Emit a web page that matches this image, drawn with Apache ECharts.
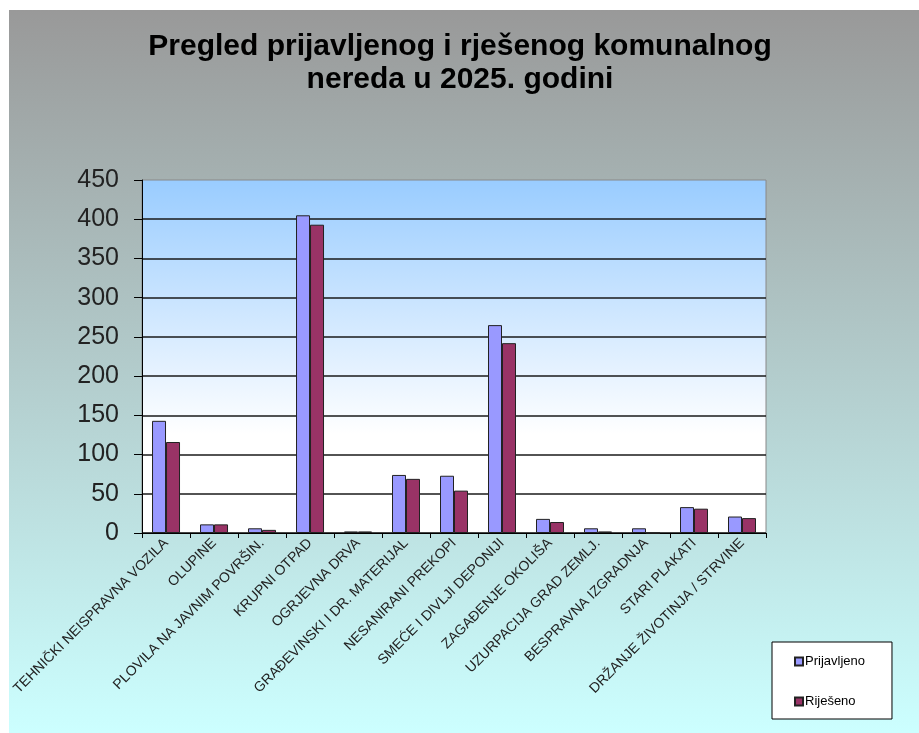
<!DOCTYPE html>
<html>
<head>
<meta charset="utf-8">
<script src="https://cdn.jsdelivr.net/npm/echarts@6/dist/echarts.min.js"></script>
<style>
html,body{margin:0;padding:0;background:#fff;width:919px;height:733px;overflow:hidden;}
#chart{position:absolute;left:9px;top:10px;width:910px;height:723px;}
</style>
</head>
<body>
<div id="chart"></div>
<script>
const categories = [
  'TEHNIČKI NEISPRAVNA VOZILA',
  'OLUPINE',
  'PLOVILA NA JAVNIM POVRŠIN.',
  'KRUPNI OTPAD',
  'OGRJEVNA DRVA',
  'GRAĐEVINSKI I DR. MATERIJAL',
  'NESANIRANI PREKOPI',
  'SMEĆE I DIVLJI DEPONIJI',
  'ZAGAĐENJE OKOLIŠA',
  'UZURPACIJA GRAD ZEMLJ.',
  'BESPRAVNA IZGRADNJA',
  'STARI PLAKATI',
  'DRŽANJE ŽIVOTINJA / STRVINE'
];
const prijavljeno = [143, 11, 6, 405, 2, 74, 73, 265, 18, 6, 6, 33, 21];
const rijeseno    = [116, 11, 4, 393, 2, 69, 54, 242, 14, 2, 0, 31, 19];
const yTicks = { min: 0, max: 450, interval: 50 };

const chart = echarts.init(document.getElementById('chart'));
const font = 'Arial, "Liberation Sans", sans-serif';
chart.setOption({
  animation: false,
  backgroundColor: new echarts.graphic.LinearGradient(0, 0, 0, 1, [
    { offset: 0, color: '#999999' },
    { offset: 1, color: '#ccffff' }
  ]),
  title: {
    text: 'Pregled prijavljenog i rješenog komunalnog\nnereda u 2025. godini',
    left: 446,
    top: 15,
    textAlign: 'center',
    textStyle: { fontFamily: font, fontWeight: 'bold', fontSize: 30, lineHeight: 33, color: '#000' }
  },
  legend: {
    orient: 'vertical',
    left: 763,
    top: 632,
    backgroundColor: '#ffffff',
    borderColor: '#000',
    borderWidth: 1,
    padding: [13, 27, 11, 22],
    itemGap: 27,
    itemWidth: 8,
    itemHeight: 8,
    icon: 'rect',
    textStyle: { fontFamily: font, fontSize: 13, color: '#000', padding: [0, 0, 0, -3] },
    data: ['Prijavljeno', 'Riješeno']
  },
  grid: {
    left: 132, top: 170, width: 625, height: 353,
    show: true,
    borderColor: '#888888',
    borderWidth: 1,
    backgroundColor: new echarts.graphic.LinearGradient(0, 0, 0, 1, [
      { offset: 0, color: '#99ccff' },
      { offset: 0.72, color: '#ffffff' },
      { offset: 1, color: '#ffffff' }
    ]),
    containLabel: false
  },
  xAxis: {
    type: 'category',
    data: categories,
    boundaryGap: true,
    axisLine: { lineStyle: { color: '#000', width: 1 } },
    axisTick: { show: true, length: 5, alignWithLabel: false, lineStyle: { color: '#000' } },
    axisLabel: {
      interval: 0,
      rotate: 45,
      margin: 8,
      fontFamily: font,
      fontSize: 14,
      color: '#222'
    }
  },
  yAxis: {
    type: 'value',
    min: yTicks.min,
    max: yTicks.max,
    interval: yTicks.interval,
    axisLine: { show: true, lineStyle: { color: '#000', width: 1 } },
    axisTick: { show: true, length: 8, lineStyle: { color: '#000' } },
    axisLabel: { fontFamily: font, fontSize: 25, color: '#222', margin: 23 },
    splitLine: { show: true, showMaxLine: false, lineStyle: { color: '#1a1a1a', width: 1.5 } }
  },
  series: [
    {
      name: 'Prijavljeno',
      type: 'bar',
      data: prijavljeno,
      barWidth: 14,
      barGap: '0%',
      itemStyle: { color: '#9999ff', borderColor: '#222', borderWidth: 1 }
    },
    {
      name: 'Riješeno',
      type: 'bar',
      data: rijeseno,
      barWidth: 14,
      barGap: '0%',
      itemStyle: { color: '#993366', borderColor: '#222', borderWidth: 1 }
    }
  ]
});
</script>
</body>
</html>
